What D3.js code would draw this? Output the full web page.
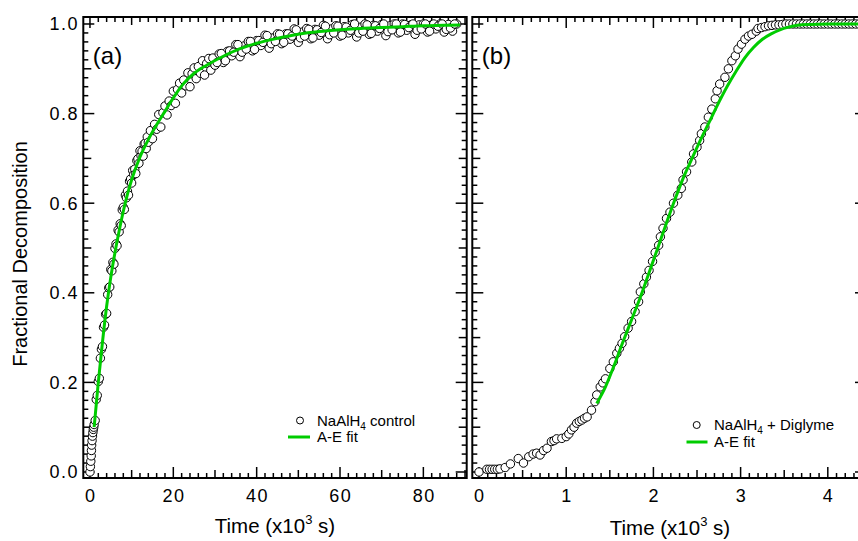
<!DOCTYPE html>
<html><head><meta charset="utf-8">
<script src="https://cdn.jsdelivr.net/npm/d3@7/dist/d3.min.js"></script>
<style>body{margin:0;background:#fff}svg{display:block;font-family:"Liberation Sans",Arial,Helvetica,sans-serif}</style>
</head><body><svg id="c" width="858" height="541"></svg>
<script>
// ---------- DATA ----------
// Panel (a): NaAlH4 control, time in 10^3 s
const timeA = [0,0.1,0.2,0.3,0.35,0.4,0.5,0.6,0.7,0.8,0.9,
 1,1.25,1.5,1.75,2,2.25,2.5,2.75,3,3.25,3.5,3.75,4,4.25,4.5,4.75,5,5.25,5.5,5.75,6,6.25,6.5,6.75,7,7.25,7.5,7.75,8,8.25,8.5,8.75,9,9.25,9.5,9.75,10,10.25,10.5,10.75,11,11.25,11.5,11.75,12,12.25,12.5,12.75,13,13.25,13.5,13.75,14,
 14.5,15,15.5,16,16.5,17,17.5,18,18.5,19,19.5,20,20.5,21,21.5,22,22.5,23,23.5,24,24.5,25,25.5,26,26.5,27,27.5,28,28.5,29,29.5,30,
 31,32,33,34,35,36,37,38,39,40,41,42,43,44,45,46,47,48,49,50,51,52,53,54,55,56,57,58,59,60,61,62,63,64,65,66,67,68,69,70,71,72,73,74,75,76,77,78,79,80,81,82,83,84,85,86,87,88,
 30.5,31.5,32.5,33.5,34.5,35.5,36.5,37.5,38.5,39.5,40.5,41.5,42.5,43.5,44.5,45.5,46.5,47.5,48.5,49.5,50.5,51.5,52.5,53.5,54.5,55.5,56.5,57.5,58.5,59.5,60.5,61.5,62.5,63.5,64.5,65.5,66.5,67.5,68.5,69.5,70.5,71.5,72.5,73.5,74.5,75.5,76.5,77.5,78.5,79.5,80.5,81.5,82.5,83.5,84.5,85.5,86.5,87.5];
const fracA = [0,0.012,0.024,0.036,0.048,0.06,0.07,0.08,0.088,0.095,0.1,
 0.106,0.115,0.162,0.171,0.202,0.209,0.254,0.274,0.280,0.323,0.328,0.352,0.354,0.396,0.411,0.413,0.452,0.449,0.468,0.464,0.499,0.509,0.505,0.540,0.536,0.554,0.550,0.585,0.591,0.586,0.618,0.612,0.627,0.618,0.649,0.654,0.645,0.673,0.664,0.676,0.666,0.695,0.699,0.689,0.717,0.706,0.716,0.705,0.732,0.734,0.722,0.748,0.736,
 0.762,0.744,0.776,0.765,0.798,0.770,0.802,0.817,0.797,0.828,0.818,0.850,0.823,0.854,0.868,0.846,0.875,0.862,0.891,0.860,0.889,0.902,0.878,0.905,0.890,0.918,0.886,0.912,0.923,0.897,0.924,0.908,
 0.933,0.914,0.939,0.929,0.954,0.927,0.951,0.961,0.940,0.963,0.952,0.975,0.946,0.969,0.978,0.956,0.978,0.966,0.989,0.959,0.982,0.990,0.967,0.988,0.975,0.997,0.967,0.989,0.996,0.973,0.994,0.980,0.999,0.971,0.993,1.0,0.977,0.997,0.984,0.999,0.974,0.996,1.0,0.980,1.0,0.986,0.998,0.977,0.998,1.0,0.982,0.998,0.989,1.0,0.982,0.999,0.984,1.0,
 0.914,0.934,0.918,0.940,0.937,0.954,0.937,0.944,0.961,0.943,0.963,0.959,0.974,0.956,0.961,0.977,0.959,0.978,0.973,0.987,0.969,0.973,0.988,0.969,0.987,0.981,0.995,0.976,0.980,0.995,0.975,0.993,0.986,1.0,0.980,0.984,0.998,0.979,0.996,0.990,1.0,0.983,0.987,1.0,0.982,0.999,0.992,1.0,0.986,0.989,1.0,0.984,1.0,0.995,1.0,0.988,0.991,1.0];
const fitTimeA = [1,1.5,2,3,4,5,6,7,8,9,10,12,14,16,18,20,22,25,28,32,36,40,45,50,55,60,65,70,75,80,85,88.8];
const fitFracA = [0.10,0.15,0.20,0.29,0.37,0.435,0.49,0.538,0.582,0.62,0.652,0.703,0.742,0.775,0.805,0.835,0.862,0.89,0.908,0.928,0.945,0.957,0.968,0.977,0.983,0.987,0.99,0.992,0.994,0.996,0.997,0.998];

// Panel (b): NaAlH4 + Diglyme
const timeB = [0,0.09,0.12,0.15,0.18,0.21,0.24,0.30,0.36,0.45,0.51,0.57,0.62,0.66,0.70,0.74,0.78,0.83,0.86,0.89,0.95,1.00,1.03,1.06,1.09,1.12,1.15,1.18,1.21,1.24,1.29,1.33,1.35,1.39,1.42,1.45,1.50,1.54,1.58,1.61,1.64,1.67,1.71,1.75,1.79,1.83,1.85,1.89,1.92,1.95,1.99,2.02,2.06,2.08,2.11,2.15,2.19,2.23,2.28,2.32,2.34,2.38,2.44,2.46,2.50,2.53,2.55,2.59,2.63,2.67,2.71,2.73,2.76,2.82,2.86,2.90,2.94,2.97,3.01,3.05,3.09,3.13,3.18,3.20,3.24,3.28,3.32,3.36,3.40,3.44,3.48,3.52,3.56,3.60,3.64,3.68,3.72,3.76,3.80,3.84,3.88,3.92,3.96,4.00,4.04,4.08,4.12,4.16,4.20,4.24,4.28,4.32,4.36];
const fracB = [0,0.006,0.006,0.006,0.006,0.006,0.007,0.010,0.018,0.030,0.020,0.034,0.040,0.042,0.038,0.048,0.053,0.068,0.070,0.074,0.075,0.079,0.085,0.094,0.100,0.109,0.113,0.116,0.120,0.123,0.138,0.157,0.172,0.190,0.199,0.208,0.231,0.246,0.265,0.276,0.287,0.302,0.321,0.336,0.358,0.380,0.402,0.420,0.435,0.450,0.470,0.490,0.506,0.525,0.544,0.566,0.580,0.600,0.618,0.633,0.652,0.670,0.692,0.710,0.725,0.740,0.755,0.770,0.792,0.810,0.833,0.851,0.866,0.881,0.900,0.918,0.929,0.944,0.955,0.966,0.973,0.977,0.984,0.990,0.992,0.994,0.996,0.997,0.998,0.998,0.999,1.0,1.0,1.0,1.0,1.0,1.0,1.0,1.0,1.0,1.0,1.0,1.0,1.0,1.0,1.0,1.0,1.0,1.0,1.0,1.0,1.0,1.0];
const fitTimeB = [1.35,1.45,1.55,1.65,1.75,1.85,1.95,2.05,2.15,2.25,2.35,2.45,2.55,2.65,2.75,2.85,2.95,3.05,3.15,3.25,3.35,3.45,3.55,3.65,3.8,4.0,4.44];
const fitFracB = [0.153,0.19,0.238,0.29,0.34,0.39,0.445,0.50,0.556,0.61,0.66,0.703,0.745,0.785,0.825,0.862,0.895,0.925,0.948,0.966,0.978,0.987,0.993,0.997,0.999,1.0,1.0];

const yTickVals = [0,0.2,0.4,0.6,0.8,1.0];
const yTickLabels = ["0.0","0.2","0.4","0.6","0.8","1.0"];
const xTickValsA = [0,20,40,60,80];
const xTickLabelsA = ["0","20","40","60","80"];
const xTickValsB = [0,1,2,3,4];
const xTickLabelsB = ["0","1","2","3","4"];
const legendA = ["NaAlH","4"," control"];
const legendB = ["NaAlH","4"," + Diglyme"];
const fitLabel = "A-E fit";

// ---------- LAYOUT ----------
const TOP=17, BOT=478;
const GREEN="#00cc00";
const svg=d3.select("#c");
const y=d3.scaleLinear().domain([-0.0134,1.0156]).range([BOT,TOP]);
const TL={M:11,m:8,n:5};

function panel(o){
  const x=d3.scaleLinear().domain(o.xdom).range([o.x0,o.x1]);
  const g=svg.append("g");
  const xt=d3.range(0,o.nx+1).map(i=>({v:i*o.xstep,k:i%10===0?"M":(i%5===0?"m":"n")})).filter(d=>d.v>=o.xdom[0]&&d.v<=o.xdom[1]);
  const yt=d3.range(0,51).map(i=>({v:i*0.02,k:i%10===0?"M":(i%5===0?"m":"n")}));
  const tg=g.append("g").attr("stroke","#000").attr("stroke-width",1.5);
  xt.forEach(d=>{
    const px=x(d.v);
    tg.append("line").attr("x1",px).attr("x2",px).attr("y1",BOT).attr("y2",BOT-TL[d.k]);
    tg.append("line").attr("x1",px).attr("x2",px).attr("y1",TOP).attr("y2",TOP+TL[d.k]);
  });
  yt.forEach(d=>{
    const py=y(d.v);
    tg.append("line").attr("x1",o.x0).attr("x2",o.x0+TL[d.k]).attr("y1",py).attr("y2",py);
    tg.append("line").attr("x1",o.x1).attr("x2",o.x1-TL[d.k]).attr("y1",py).attr("y2",py);
  });
  g.append("rect").attr("x",o.x0).attr("y",TOP).attr("width",o.x1-o.x0).attr("height",BOT-TOP)
   .attr("fill","none").attr("stroke","#000").attr("stroke-width",2);
  const pts=o.t.map((t,i)=>[t,o.f[i]]);
  g.append("g").selectAll("circle").data(pts).join("circle")
   .attr("cx",d=>x(d[0])).attr("cy",d=>y(d[1])).attr("r",4.2)
   .attr("fill","#fff").attr("stroke","#000").attr("stroke-width",1);
  const fit=o.ft.map((t,i)=>[t,o.ff[i]]);
  g.append("path").datum(fit).attr("fill","none").attr("stroke",GREEN).attr("stroke-width",3)
   .attr("d",d3.line().x(d=>x(d[0])).y(d=>y(d[1])).curve(d3.curveMonotoneX));
  g.append("g").selectAll("text").data(o.xv).join("text")
   .attr("x",d=>x(d)+0.8).attr("y",502).attr("text-anchor","middle").attr("font-size",18)
   .attr("letter-spacing",1.5).text((d,i)=>o.xl[i]);
  const tt=g.append("text").attr("x",o.titleX).attr("y",o.titleY).attr("text-anchor","middle").attr("font-size",20.5);
  tt.append("tspan").text("Time (x10");
  tt.append("tspan").attr("font-size",13).attr("dy",-9).text("3");
  tt.append("tspan").attr("dy",9).text(" s)");
  g.append("text").attr("x",o.x0+9.5).attr("y",64).attr("font-size",24).text(o.label);
  const L=o.leg;
  g.append("circle").attr("cx",L.mx).attr("cy",L.my).attr("r",3.5).attr("fill","#fff").attr("stroke","#000").attr("stroke-width",1);
  const lt=g.append("text").attr("x",L.tx).attr("y",L.my+5).attr("font-size",15);
  lt.append("tspan").text(o.legText[0]);
  lt.append("tspan").attr("font-size",10).attr("dy",4).text(o.legText[1]);
  lt.append("tspan").attr("dy",-4).text(o.legText[2]);
  g.append("line").attr("x1",L.lx0).attr("x2",L.lx1).attr("y1",L.ly).attr("y2",L.ly).attr("stroke",GREEN).attr("stroke-width",3);
  g.append("text").attr("x",L.tx).attr("y",L.ly+5).attr("font-size",15).text(fitLabel);
  return x;
}

panel({x0:83.3,x1:466.7,xdom:[-1.6,90.4],nx:45,xstep:2,t:timeA,f:fracA,ft:fitTimeA,ff:fitFracA,
  xv:xTickValsA,xl:xTickLabelsA,titleX:275,titleY:533,label:"(a)",legText:legendA,
  leg:{mx:300,my:420.5,tx:317,lx0:288,lx1:310,ly:437}});
panel({x0:472.3,x1:866,xdom:[-0.077,4.438],nx:44,xstep:0.1,t:timeB,f:fracB,ft:fitTimeB,ff:fitFracB,
  xv:xTickValsB,xl:xTickLabelsB,titleX:670,titleY:535,label:"(b)",legText:legendB,
  leg:{mx:696.7,my:425,tx:714,lx0:686.5,lx1:707.5,ly:442}});

svg.append("g").selectAll("text").data(yTickVals).join("text")
 .attr("x",79).attr("y",d=>y(d)).attr("dy","0.36em").attr("text-anchor","end").attr("font-size",18)
 .attr("letter-spacing",1.5).text((d,i)=>yTickLabels[i]);
svg.append("text").attr("transform","translate(27,254) rotate(-90)").attr("text-anchor","middle")
 .attr("font-size",20).text("Fractional Decomposition");
</script></body></html>
